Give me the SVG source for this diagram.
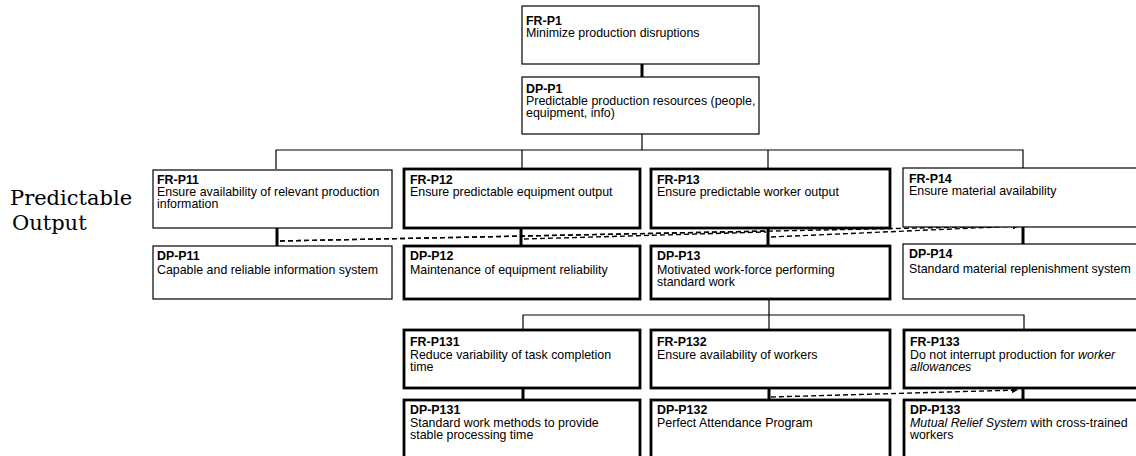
<svg xmlns="http://www.w3.org/2000/svg" width="1136" height="456" viewBox="0 0 1136 456">
<defs>
<style>
.thin{fill:#fff;stroke:#000;stroke-width:1.2}
.thick{fill:#fff;stroke:#000;stroke-width:2.8}
.t{font-family:"Liberation Sans",Arial,sans-serif;font-size:12.4px;font-weight:bold;fill:#000}
.b{font-family:"Liberation Sans",Arial,sans-serif;font-size:12.4px;fill:#000}
.side{font-family:"DejaVu Serif","Liberation Serif",serif;font-size:21px;fill:#000}
.ln{stroke:#000;stroke-width:1.2;fill:none}
.lk{stroke:#000;stroke-width:3;fill:none}
.ds{stroke:#000;stroke-width:1.4;fill:none;stroke-dasharray:5 3}
</style>
<marker id="ah" viewBox="0 0 10 10" refX="10" refY="5" markerWidth="7" markerHeight="6" markerUnits="userSpaceOnUse" orient="auto">
<path d="M0,0 L10,5 L0,10 z" fill="#000"/>
</marker>
</defs>
<rect width="1136" height="456" fill="#fff"/>

<g id="label-side">
<text class="side" x="10" y="205">Predictable</text>
<text class="side" x="12" y="230">Output</text>
</g>

<g id="connectors">
<line class="lk" x1="642" y1="64" x2="642" y2="77"/>
<line class="ln" x1="642" y1="134" x2="642" y2="150"/>
<polyline class="ln" points="276,169 276,150 1023,150 1023,168"/>
<line class="ln" x1="522" y1="150" x2="522" y2="168"/>
<line class="ln" x1="768" y1="150" x2="768" y2="168"/>
<line class="lk" x1="277" y1="228" x2="277" y2="246"/>
<line class="lk" x1="521" y1="228" x2="521" y2="246"/>
<line class="lk" x1="768" y1="228" x2="768" y2="246"/>
<line class="lk" x1="1023" y1="227" x2="1023" y2="246"/>
<line class="ln" x1="769" y1="299" x2="769" y2="329"/>
<polyline class="ln" points="523,329 523,315 1024,315 1024,329"/>
<line class="lk" x1="523" y1="388" x2="523" y2="400"/>
<line class="lk" x1="769" y1="388" x2="769" y2="400"/>
<line class="lk" x1="1023" y1="388" x2="1023" y2="400"/>
<path class="ds" d="M280,241 L766,231"/>
<path class="ds" d="M280,241 L1019,226" marker-end="url(#ah)"/>
<path class="ds" d="M524,239 L766,232"/>
<path class="ds" d="M771,237 L1019,226" marker-end="url(#ah)"/>
<path class="ds" d="M771,397 L1018,390" marker-end="url(#ah)"/>
</g>

<g id="FR-P1">
<rect class="thin" x="522" y="6" width="237" height="58"/>
<text class="t" x="526" y="25">FR-P1</text>
<text class="b" x="526" y="37">Minimize production disruptions</text>
</g>
<g id="DP-P1">
<rect class="thin" x="522" y="77" width="237" height="57"/>
<text class="t" x="526" y="93">DP-P1</text>
<text class="b" x="526" y="105">Predictable production resources (people,</text>
<text class="b" x="526" y="117">equipment, info)</text>
</g>

<g id="FR-P11">
<rect class="thin" x="153" y="170" width="239" height="58"/>
<text class="t" x="157" y="184">FR-P11</text>
<text class="b" x="157" y="196">Ensure availability of relevant production</text>
<text class="b" x="157" y="208">information</text>
</g>
<g id="FR-P12">
<rect class="thick" x="404" y="169" width="236" height="59"/>
<text class="t" x="410" y="184">FR-P12</text>
<text class="b" x="410" y="196">Ensure predictable equipment output</text>
</g>
<g id="FR-P13">
<rect class="thick" x="651" y="169" width="239" height="59"/>
<text class="t" x="657" y="184">FR-P13</text>
<text class="b" x="657" y="196">Ensure predictable worker output</text>
</g>
<g id="FR-P14">
<rect class="thin" x="903" y="168" width="240" height="59"/>
<text class="t" x="909" y="183">FR-P14</text>
<text class="b" x="909" y="195">Ensure material availability</text>
</g>

<g id="DP-P11">
<rect class="thin" x="153" y="246" width="239" height="53"/>
<text class="t" x="157" y="260">DP-P11</text>
<text class="b" x="157" y="274">Capable and reliable information system</text>
</g>
<g id="DP-P12">
<rect class="thick" x="404" y="246" width="236" height="53"/>
<text class="t" x="410" y="260">DP-P12</text>
<text class="b" x="410" y="274">Maintenance of equipment reliability</text>
</g>
<g id="DP-P13">
<rect class="thick" x="651" y="246" width="239" height="53"/>
<text class="t" x="657" y="260">DP-P13</text>
<text class="b" x="657" y="274">Motivated work-force performing</text>
<text class="b" x="657" y="286">standard work</text>
</g>
<g id="DP-P14">
<rect class="thin" x="903" y="244" width="240" height="55"/>
<text class="t" x="909" y="258">DP-P14</text>
<text class="b" x="909" y="273">Standard material replenishment system</text>
</g>

<g id="FR-P131">
<rect class="thick" x="404" y="330" width="236" height="58"/>
<text class="t" x="410" y="346">FR-P131</text>
<text class="b" x="410" y="359">Reduce variability of task completion</text>
<text class="b" x="410" y="371">time</text>
</g>
<g id="FR-P132">
<rect class="thick" x="651" y="330" width="239" height="58"/>
<text class="t" x="657" y="346">FR-P132</text>
<text class="b" x="657" y="359">Ensure availability of workers</text>
</g>
<g id="FR-P133">
<rect class="thick" x="904" y="330" width="240" height="58"/>
<text class="t" x="910" y="346">FR-P133</text>
<text class="b" x="910" y="359">Do not interrupt production for <tspan font-style="italic">worker</tspan></text>
<text class="b" x="910" y="371" font-style="italic">allowances</text>
</g>

<g id="DP-P131">
<rect class="thick" x="404" y="400" width="236" height="58"/>
<text class="t" x="410" y="414">DP-P131</text>
<text class="b" x="410" y="427">Standard work methods to provide</text>
<text class="b" x="410" y="439">stable processing time</text>
</g>
<g id="DP-P132">
<rect class="thick" x="651" y="400" width="239" height="58"/>
<text class="t" x="657" y="414">DP-P132</text>
<text class="b" x="657" y="427">Perfect Attendance Program</text>
</g>
<g id="DP-P133">
<rect class="thick" x="904" y="400" width="240" height="58"/>
<text class="t" x="910" y="414">DP-P133</text>
<text class="b" x="910" y="427"><tspan font-style="italic">Mutual Relief System</tspan> with cross-trained</text>
<text class="b" x="910" y="439">workers</text>
</g>
</svg>
